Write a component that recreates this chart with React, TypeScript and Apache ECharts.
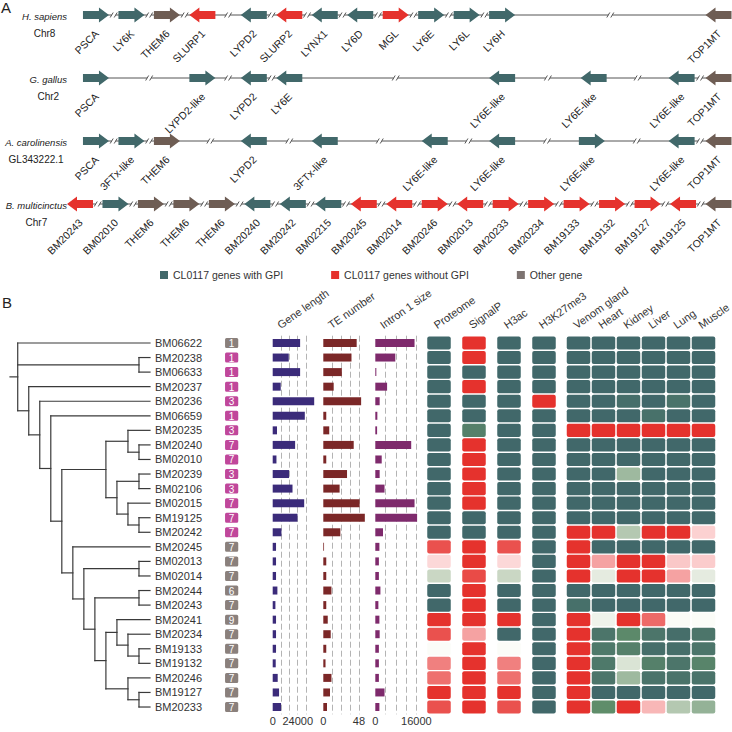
import React, { useEffect, useRef } from 'react';
import * as echarts from 'echarts';

const FONT = '"Liberation Sans", Arial, Helvetica, sans-serif';

// ---------------- Panel A data ----------------
const speciesNames = ['H. sapiens', 'G. gallus', 'A. carolinensis', 'B. multicinctus'];
const chromNames = ['Chr8', 'Chr2', 'GL343222.1', 'Chr7'];

const hsGenes = ['PSCA', 'LY6K', 'THEM6', 'SLURP1', 'LYPD2', 'SLURP2', 'LYNX1', 'LY6D', 'MGL', 'LY6E', 'LY6L', 'LY6H', 'TOP1MT'];
const hsPos = [0.45, 1.45, 2.45, 3.45, 4.9, 5.9, 6.9, 7.9, 8.9, 9.9, 10.9, 11.9, 18];
const hsStrand = [1, 1, 1, -1, -1, -1, -1, -1, 1, 1, 1, 1, -1];
const hsClass = [0, 0, 2, 1, 0, 1, 0, 0, 1, 0, 0, 0, 2];

const ggGenes = ['PSCA', 'LYPD2-like', 'LYPD2', 'LY6E', 'LY6E-like', 'LY6E-like', 'LY6E-like', 'TOP1MT'];
const ggPos = [0.45, 3.45, 4.9, 5.9, 11.9, 14.48, 16.96, 18];
const ggStrand = [1, 1, -1, -1, -1, -1, -1, -1];
const ggClass = [0, 0, 0, 0, 0, 0, 0, 2];

const acGenes = ['PSCA', '3FTx-like', 'THEM6', 'LYPD2', '3FTx-like', 'LY6E-like', 'LY6E-like', 'LY6E-like', 'LY6E-like', 'TOP1MT'];
const acPos = [0.45, 1.45, 2.45, 4.9, 6.9, 10.0, 11.9, 14.43, 16.96, 18];
const acStrand = [1, 1, 1, -1, -1, -1, -1, 1, -1, -1];
const acClass = [0, 0, 2, 0, 0, 0, 0, 0, 0, 2];

const bmGenes = ['BM20243', 'BM02010', 'THEM6', 'THEM6', 'THEM6', 'BM20240', 'BM20242', 'BM02215', 'BM20245', 'BM02014', 'BM20246', 'BM02013', 'BM20233', 'BM20234', 'BM19133', 'BM19132', 'BM19127', 'BM19125', 'TOP1MT'];
const bmPos = [0, 1, 2, 3, 4, 5, 6, 7, 8, 9, 10, 11, 12, 13, 14, 15, 16, 17, 18];
const bmStrand = [-1, 1, 1, 1, 1, -1, -1, -1, -1, -1, 1, -1, 1, 1, 1, 1, 1, -1, -1];
const bmClass = [1, 0, 2, 2, 2, 0, 0, 0, 1, 1, 1, 1, 1, 1, 1, 1, 1, 1, 2];

const classNames = ['CL0117 genes with GPI', 'CL0117 genes without GPI', 'Other gene'];
const classColors = ['#41686a', '#e5322d', '#6e5d54'];
const legendColors = ['#41686a', '#e5322d', '#7d7371'];

// ---------------- Panel B data ----------------
const geneNames = ['BM06622', 'BM20238', 'BM06633', 'BM20237', 'BM20236', 'BM06659', 'BM20235', 'BM20240', 'BM02010', 'BM20239', 'BM02106', 'BM02015', 'BM19125', 'BM20242', 'BM20245', 'BM02013', 'BM02014', 'BM20244', 'BM20243', 'BM20241', 'BM20234', 'BM19133', 'BM19132', 'BM20246', 'BM19127', 'BM20233'];
const exonCount = [1, 1, 1, 1, 3, 1, 3, 7, 7, 3, 3, 7, 7, 7, 7, 7, 7, 6, 7, 9, 7, 7, 7, 7, 7, 7];
const badgeGroup = [0, 1, 1, 1, 1, 1, 1, 1, 1, 1, 1, 1, 1, 1, 0, 0, 0, 0, 0, 0, 0, 0, 0, 0, 0, 0];

// tree topology (leaf = row index)
const cladeN10 = [[19, [20, [21, 22]]], [23, [24, 25]]];
const cladeN9 = [[17, 18], cladeN10];
const cladeN7 = [14, [[15, 16], cladeN9]];
const cladeN6 = [[6, [7, 8]], [[9, 10], [11, [12, 13]]]];
const treeTopology = [0, [1, 2], [3, [4, [5, [cladeN6, cladeN7]]]]];

const barHeaders = ['Gene length', 'TE number', 'Intron 1 size'];
const geneLength = [26300, 15400, 26300, 7700, 39800, 30800, 4100, 21500, 3600, 15700, 19000, 30200, 23800, 8400, 3200, 3200, 3200, 4500, 2600, 3200, 3200, 3200, 2900, 4800, 6100, 8000];
const teNumber = [45, 38, 25, 14, 51, 4, 8, 41, 4, 32, 22, 49, 56, 23, 1, 4, 4, 11, 4, 6, 10, 4, 3, 11, 9, 5];
const intron1Size = [15300, 7800, 400, 4600, 1700, 800, 700, 14000, 2500, 1700, 3600, 15300, 16300, 3000, 1600, 1400, 1400, 2000, 1200, 1600, 1700, 1400, 1400, 1400, 3600, 1600];
const geneLengthTicks = [0, 24000];
const teTicks = [0, 48];
const intronTicks = [0, 16000];

const annotationCols = ['Proteome', 'SignalP', 'H3ac', 'H3K27me3'];
const proteome = [1, 1, 1, 1, 1, 1, 1, 1, 1, 1, 1, 1, 1, 1, -0.9, -0.3, 0.33, 1, 1, -1, -0.9, 0, -0.75, -0.8, -1, -0.9];
const signalP = [-1, -1, 1, -1, 1, 1, 0.78, -1, -1, -1, -1, -1, 1, 1, -1, -1, -0.92, -1, -1, -1, -0.62, -1, -1, -1, -1, -1];
const h3ac = [1, 1, 1, 1, 1, 1, 1, 1, 1, 1, 1, 1, 1, 1, -0.9, -0.3, 0.33, 1, 1, -1, 1, 0, -0.75, -0.8, -1, -0.9];
const h3k27me3 = [1, 1, 1, 1, -1, 1, 1, 1, 1, 1, 1, 1, 1, 1, 1, 1, 1, 1, 1, 1, 1, 1, 1, 1, 1, 1];

const tissueCols = ['Venom gland', 'Heart', 'Kidney', 'Liver', 'Lung', 'Muscle'];
const venomGland = [1, 1, 1, 1, 1, 1, -1, 1, 1, 1, 1, 1, 1, -1, -1, -1, -1, 1, 0.93, -1, -1, -1, -1, -1, -1, -1];
const heart = [1, 1, 1, 1, 1, 1, -1, 1, 1, 1, 1, 1, 1, -1, 1, -0.62, 0.15, 1, 1, 0.08, 0.88, 0.85, 0.85, 0.88, 1, 0.67];
const kidney = [1, 1, 1, 1, 0.95, 1, -1, 1, 1, 0.47, 1, 1, 1, 0.4, 1, -1, -1, 1, 1, -1, 0.7, 0.78, 0.22, 0.47, 1, -1];
const liver = [1, 1, 1, 1, 1, 0.92, -1, 1, 1, 1, 1, 1, 1, -1, 1, -1, -1, 1, 1, -0.82, 0.88, 0.95, 0.78, 0.9, 1, -0.5];
const lung = [1, 1, 1, 1, 0.9, 1, -1, 1, 1, 1, 1, 1, 1, -1, 1, -0.4, -0.62, 1, 1, 0.01, 0.95, 0.95, 0.88, 0.9, 1, 0.4];
const muscle = [1, 1, 1, 1, 1, 1, -1, 1, 1, 1, 1, 1, 1, -0.35, 1, -0.38, 0.15, 1, 1, 0, 0.88, 0.88, 0.75, 0.9, 1, 0.5];

const heatColors = ['#e5322d', '#f49a9a', '#fcd4d4', '#fbfcf8', '#c9d7c3', '#5f8d6a', '#41686a'];

// ---------------- helpers ----------------
let measureCtx: CanvasRenderingContext2D | null = null;
function measure(text: string, font: string) {
  if (!measureCtx) measureCtx = document.createElement('canvas').getContext('2d');
  if (!measureCtx) return text.length * 5.5;
  measureCtx.font = font;
  return measureCtx.measureText(text).width;
}

function buildOption() {
  const rowsA = [
    { genes: hsGenes, pos: hsPos, strand: hsStrand, cls: hsClass },
    { genes: ggGenes, pos: ggPos, strand: ggStrand, cls: ggClass },
    { genes: acGenes, pos: acPos, strand: acStrand, cls: acClass },
    { genes: bmGenes, pos: bmPos, strand: bmStrand, cls: bmClass },
  ];
  const arrowNames: string[] = [];
  const classData: number[][][] = [[], [], []];
  const backbone: number[][] = [];
  const breaks: number[][] = [];
  rowsA.forEach((r, ri) => {
    r.genes.forEach((g, gi) => {
      const idx = arrowNames.length;
      arrowNames.push(g);
      classData[r.cls[gi]].push([r.pos[gi], ri, r.strand[gi], idx]);
      if (gi > 0) breaks.push([(r.pos[gi - 1] + r.pos[gi]) / 2, ri]);
    });
    backbone.push([r.pos[0], r.pos[r.pos.length - 1], ri]);
  });

  // tree layout
  const segments: number[][] = [];
  const walk = (node: any): { h: number; y: number } => {
    if (typeof node === 'number') return { h: 0, y: node };
    const kids = node.map(walk);
    const h = Math.max(...kids.map((k: any) => k.h)) + 1;
    const y0 = kids[0].y;
    const y1 = kids[kids.length - 1].y;
    segments.push([h, y0, h, y1]);
    kids.forEach((k: any) => segments.push([h, k.y, k.h, k.y]));
    return { h, y: (y0 + y1) / 2 };
  };
  const root = walk(treeTopology);
  segments.push([root.h + 0.7, root.y, root.h, root.y]);

  const annCols = [proteome, signalP, h3ac, h3k27me3];
  const tisCols = [venomGland, heart, kidney, liver, lung, muscle];
  const annData: number[][] = [];
  annCols.forEach((col, ci) => col.forEach((v, ri) => annData.push([ci, ri, v])));
  const tisData: number[][] = [];
  tisCols.forEach((col, ci) => col.forEach((v, ri) => tisData.push([ci, ri, v])));

  const bTop = 335.7;
  const bHeight = 378.6;
  const txt = { fontFamily: FONT, color: '#333' };

  // layout of panel B grids
  const annLeft = 421.5, annW = 140;
  const tisLeft = 566, tisW = 150;
  const barLefts = [272.7, 323.3, 375.3];

  const arrowRender = (params: any, api: any) => {
    const c = api.coord([api.value(0), api.value(1)]);
    const s = api.value(2);
    const idx = api.value(3);
    const L = 13, head = 10, bh = 4, hh = 7.5;
    const tip = c[0] + s * L;
    const tail = c[0] - s * L;
    const neck = tip - s * head;
    const cy = c[1];
    return {
      type: 'group',
      children: [
        {
          type: 'polygon',
          shape: { points: [[tail, cy - bh], [neck, cy - bh], [neck, cy - hh], [tip, cy], [neck, cy + hh], [neck, cy + bh], [tail, cy + bh]] },
          style: { fill: api.visual('color') },
        },
        {
          type: 'text',
          x: c[0] + 1,
          y: cy + 17,
          rotation: Math.PI / 4,
          style: { text: arrowNames[idx], align: 'right', verticalAlign: 'middle', fontSize: 10.5, fontFamily: FONT, fill: '#222' },
        },
      ],
    };
  };

  const heatRender = (params: any, api: any) => {
    const c = api.coord([api.value(0), api.value(1)]);
    const sz = api.size([1, 1]);
    const w = 23.5;
    const h = sz[1] - 1.4;
    return {
      type: 'rect',
      shape: { x: c[0] - w / 2, y: c[1] - h / 2, width: w, height: h, r: 2 },
      style: { fill: api.visual('color') },
    };
  };

  const catY = (gi: number, extra: any = {}) => ({
    type: 'category', gridIndex: gi, data: geneNames, inverse: true,
    axisLine: { show: false }, axisTick: { show: false }, axisLabel: { show: false }, splitLine: { show: false },
    ...extra,
  });

  const barX = (gi: number, max: number, interval: number, ticks: number[]) => ({
    type: 'value', gridIndex: gi, min: 0, max, interval, position: 'bottom',
    axisLine: { show: false }, axisTick: { show: false },
    axisLabel: { ...txt, fontSize: 11, margin: 1, formatter: (v: number) => (ticks.includes(v) ? String(v) : '') },
    splitLine: { show: true, showMinLine: false, showMaxLine: false, lineStyle: { type: [6, 3], color: '#b4b4b4', width: 1 } },
  });

  const grid = (left: number, width: number, top = bTop, height = bHeight) => ({ left, width, top, height, containLabel: false, outerBoundsMode: 'none' });

  const headerText = (text: string, x: number, y: number) => ({
    type: 'text', x, y, rotation: (35 * Math.PI) / 180,
    style: { text, align: 'left', verticalAlign: 'middle', fontSize: 11, fontFamily: FONT, fill: '#333' },
  });

  const headerY = 326;
  const headers = [
    ...barHeaders.map((t, i) => headerText(t, barLefts[i] + 5.8, headerY)),
    ...annotationCols.map((t, i) => headerText(t, annLeft + (annW / annotationCols.length) * (i + 0.5) - 4, headerY)),
    ...tissueCols.map((t, i) => headerText(t, tisLeft + (tisW / tissueCols.length) * (i + 0.5) - 4, headerY)),
  ];

  const spFont = 9.5;

  return {
    animation: false,
    backgroundColor: '#ffffff',
    textStyle: { fontFamily: FONT },
    title: [
      { text: 'A', left: 1, top: 0, padding: 0, textStyle: { fontSize: 15, fontWeight: 'normal', color: '#222', fontFamily: FONT } },
      { text: 'B', left: 2, top: 295, padding: 0, textStyle: { fontSize: 15, fontWeight: 'normal', color: '#222', fontFamily: FONT } },
    ],
    legend: {
      left: 155, top: 264.5, itemWidth: 8, itemHeight: 8, itemGap: 48, icon: 'rect', selectedMode: false,
      textStyle: { fontSize: 10.5, color: '#333', fontFamily: FONT },
      data: classNames.map((n, i) => ({ name: n, itemStyle: { color: legendColors[i] } })),
    },
    graphic: headers,
    visualMap: {
      type: 'continuous', show: false, min: -1, max: 1, dimension: 2, seriesIndex: [10, 11],
      inRange: { color: heatColors },
    },
    grid: [
      grid(80, 638.5, 15, 189), // 0 panel A
      grid(10, 140), // 1 tree
      grid(225, 13.3), // 2 badges
      grid(barLefts[0], 41.7), // 3 gene length
      grid(barLefts[1], 44.5), // 4 TE
      grid(barLefts[2], 43.6), // 5 intron
      grid(annLeft, annW), // 6 annotation heat
      grid(tisLeft, tisW), // 7 tissue heat
    ],
    xAxis: [
      { type: 'value', gridIndex: 0, min: 0, max: 18, show: false },
      { type: 'value', gridIndex: 1, min: 0, max: 12.7, inverse: true, show: false },
      { type: 'category', gridIndex: 2, data: ['n'], show: false },
      barX(3, 40000, 8000, geneLengthTicks),
      barX(4, 60, 12, teTicks),
      barX(5, 17000, 4000, intronTicks),
      { type: 'category', gridIndex: 6, data: annotationCols, show: false },
      { type: 'category', gridIndex: 7, data: tissueCols, show: false },
    ],
    yAxis: [
      { type: 'value', gridIndex: 0, min: 0, max: 3, inverse: true, show: false },
      { type: 'value', gridIndex: 1, min: -0.5, max: 25.5, inverse: true, show: false },
      catY(2, { axisLabel: { show: true, ...txt, fontSize: 11, align: 'left', margin: 70, interval: 0 } }),
      catY(3),
      catY(4),
      catY(5),
      catY(6),
      catY(7),
    ],
    series: [
      {
        type: 'custom', name: 'backbone', xAxisIndex: 0, yAxisIndex: 0, z: 1, data: backbone,
        renderItem: (params: any, api: any) => {
          const a = api.coord([api.value(0), api.value(2)]);
          const b = api.coord([api.value(1), api.value(2)]);
          const ri = params.dataIndex;
          const sp = speciesNames[ri];
          const w = measure(sp, `italic ${spFont}px ${FONT}`);
          const right = 67;
          return {
            type: 'group',
            children: [
              { type: 'line', shape: { x1: a[0], y1: a[1], x2: b[0], y2: b[1] }, style: { stroke: '#555', lineWidth: 1 } },
              { type: 'text', x: right, y: a[1] + 1, style: { text: sp, align: 'right', verticalAlign: 'middle', fontStyle: 'italic', fontSize: spFont, fontFamily: FONT, fill: '#222' } },
              { type: 'text', x: right - w / 2, y: a[1] + 18, style: { text: chromNames[ri], align: 'center', verticalAlign: 'middle', fontSize: 10, fontFamily: FONT, fill: '#222' } },
            ],
          };
        },
      },
      {
        type: 'custom', name: 'breaks', xAxisIndex: 0, yAxisIndex: 0, z: 2, data: breaks,
        renderItem: (params: any, api: any) => {
          const c = api.coord([api.value(0), api.value(1)]);
          return {
            type: 'group',
            children: [
              { type: 'rect', shape: { x: c[0] - 2, y: c[1] - 1, width: 4, height: 2 }, style: { fill: '#fff' } },
              ...[-2, 2].map((dx) => ({
                type: 'line',
                shape: { x1: c[0] + dx - 1.5, y1: c[1] + 2.5, x2: c[0] + dx + 1.5, y2: c[1] - 2.5 },
                style: { stroke: '#555', lineWidth: 1 },
              })),
            ],
          };
        },
      },
      ...classNames.map((n, i) => ({
        type: 'custom', name: n, xAxisIndex: 0, yAxisIndex: 0, z: 3, data: classData[i],
        itemStyle: { color: classColors[i] },
        renderItem: arrowRender,
      })),
      {
        type: 'custom', name: 'tree', xAxisIndex: 1, yAxisIndex: 1, data: segments,
        renderItem: (params: any, api: any) => {
          const p1 = api.coord([api.value(0), api.value(1)]);
          const p2 = api.coord([api.value(2), api.value(3)]);
          return {
            type: 'line', shape: { x1: p1[0], y1: p1[1], x2: p2[0], y2: p2[1] },
            style: { stroke: '#3a3a3a', lineWidth: 1.2, lineCap: 'square' },
          };
        },
      },
      {
        type: 'custom', name: 'badges', xAxisIndex: 2, yAxisIndex: 2,
        data: geneNames.map((g, i) => [0, i, exonCount[i], badgeGroup[i]]),
        renderItem: (params: any, api: any) => {
          const c = api.coord([0, api.value(1)]);
          const grp = api.value(3);
          return {
            type: 'group',
            children: [
              { type: 'rect', shape: { x: c[0] - 6.6, y: c[1] - 5, width: 13.2, height: 10, r: 1.5 }, style: { fill: grp ? '#c0479b' : '#8a807c' } },
              { type: 'text', x: c[0], y: c[1] + 0.5, style: { text: String(api.value(2)), align: 'center', verticalAlign: 'middle', fontSize: 10, fontFamily: FONT, fill: '#fff' } },
            ],
          };
        },
      },
      { type: 'bar', name: 'Gene length', xAxisIndex: 3, yAxisIndex: 3, data: geneLength, barWidth: 8, itemStyle: { color: '#3b2b7a' } },
      { type: 'bar', name: 'TE number', xAxisIndex: 4, yAxisIndex: 4, data: teNumber, barWidth: 8, itemStyle: { color: '#7b2727' } },
      { type: 'bar', name: 'Intron 1 size', xAxisIndex: 5, yAxisIndex: 5, data: intron1Size, barWidth: 8, itemStyle: { color: '#7e2a6c' } },
      { type: 'custom', name: 'annotation', xAxisIndex: 6, yAxisIndex: 6, data: annData, renderItem: heatRender },
      { type: 'custom', name: 'tissue', xAxisIndex: 7, yAxisIndex: 7, data: tisData, renderItem: heatRender },
    ],
  };
}

export default function App() {
  const ref = useRef<HTMLDivElement>(null);
  useEffect(() => {
    if (!ref.current) return;
    const chart = echarts.init(ref.current, null, { renderer: 'svg' });
    chart.setOption(buildOption() as any);
    return () => chart.dispose();
  }, []);
  return <div ref={ref} style={{ position: 'absolute', left: 0, top: 0, width: 732, height: 732 }} />;
}
